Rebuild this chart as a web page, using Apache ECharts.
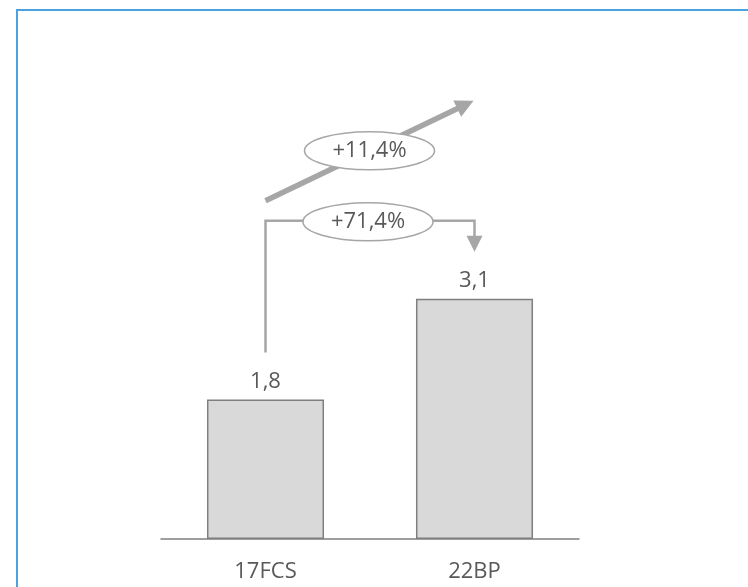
<!DOCTYPE html>
<html>
<head>
<meta charset="utf-8">
<script src="https://cdn.jsdelivr.net/npm/echarts@6/dist/echarts.min.js"></script>
<style>
  html, body { margin: 0; padding: 0; background: #fff; }
  #chart { width: 748px; height: 587px; }
</style>
</head>
<body>
<div id="chart"></div>
<script>
// data
var categories = ['17FCS', '22BP'];
var values = [1.8, 3.1];
var growthLabels = ['+71,4%', '+11,4%'];

var grey = '#a6a6a6';
var textColor = '#595959';
var font = 'Open Sans';

var chart = echarts.init(document.getElementById('chart'));

var option = {
  animation: false,
  grid: { left: 161, right: 169, top: 229, bottom: 48 },
  xAxis: {
    type: 'category',
    data: categories,
    axisLine: { lineStyle: { color: '#7f7f7f', width: 1.5 } },
    axisTick: { show: false },
    axisLabel: { color: textColor, fontFamily: font, fontSize: 22, margin: 22 }
  },
  yAxis: {
    type: 'value',
    min: 0,
    max: 4,
    show: false
  },
  series: [{
    type: 'bar',
    data: values,
    barWidth: '56%',
    itemStyle: { color: '#d9d9d9', borderColor: '#7f7f7f', borderWidth: 1.5 },
    label: {
      show: true,
      position: 'top',
      distance: 7,
      color: textColor,
      fontFamily: font,
      fontSize: 22,
      formatter: function (p) { return String(p.value).replace('.', ','); }
    }
  }]
};

chart.setOption(option);

// annotations placed from bar positions
var p1 = chart.convertToPixel({ gridIndex: 0 }, [0, values[0]]);
var p2 = chart.convertToPixel({ gridIndex: 0 }, [1, values[1]]);
var x1 = p1[0], x2 = p2[0];
var yb = p2[1] - 78;            // bracket level
var tipY = p2[1] - 47;          // down arrow tip

function ellipseWithText(cx, cy, txt) {
  return [{
    type: 'ellipse',
    shape: { cx: cx, cy: cy, rx: 65, ry: 19 },
    style: { fill: '#fff', stroke: grey, lineWidth: 1.5 },
    z: 10
  }, {
    type: 'text',
    x: cx, y: cy,
    style: {
      text: txt, fill: textColor, font: '22px "' + font + '"',
      align: 'center', verticalAlign: 'middle'
    },
    z: 11
  }];
}

// upward growth arrow
var sx = x1, sy = yb - 20;
var tx = x2 - 1, ty = yb - 120;
var dx = tx - sx, dy = ty - sy, len = Math.sqrt(dx * dx + dy * dy);
var ux = dx / len, uy = dy / len, nx = -uy, ny = ux;
var bx = tx - 18 * ux, by = ty - 18 * uy;

var graphics = [
  {
    type: 'rect',
    shape: { x: 17, y: 10, width: 800, height: 700 },
    style: { fill: 'none', stroke: '#4aa3df', lineWidth: 2 }
  },
  {
    type: 'polyline',
    shape: { points: [[x1, p1[1] - 47], [x1, yb], [x2, yb], [x2, tipY - 14]] },
    style: { stroke: grey, lineWidth: 2.5, fill: 'none' },
    z: 5
  },
  {
    type: 'polygon',
    shape: { points: [[x2 - 8, tipY - 16], [x2 + 8, tipY - 16], [x2, tipY]] },
    style: { fill: grey },
    z: 5
  },
  {
    type: 'line',
    shape: { x1: sx, y1: sy, x2: bx + 2 * ux, y2: by + 2 * uy },
    style: { stroke: grey, lineWidth: 5.5 },
    z: 5
  },
  {
    type: 'polygon',
    shape: { points: [[bx + 9 * nx, by + 9 * ny], [bx - 9 * nx, by - 9 * ny], [tx, ty]] },
    style: { fill: grey },
    z: 5
  }
].concat(
  ellipseWithText((x1 + x2) / 2 - 2, yb + 1, growthLabels[0]),
  ellipseWithText((sx + tx) / 2, (sy + ty) / 2, growthLabels[1])
);

chart.setOption({ graphic: graphics });
</script>
</body>
</html>
